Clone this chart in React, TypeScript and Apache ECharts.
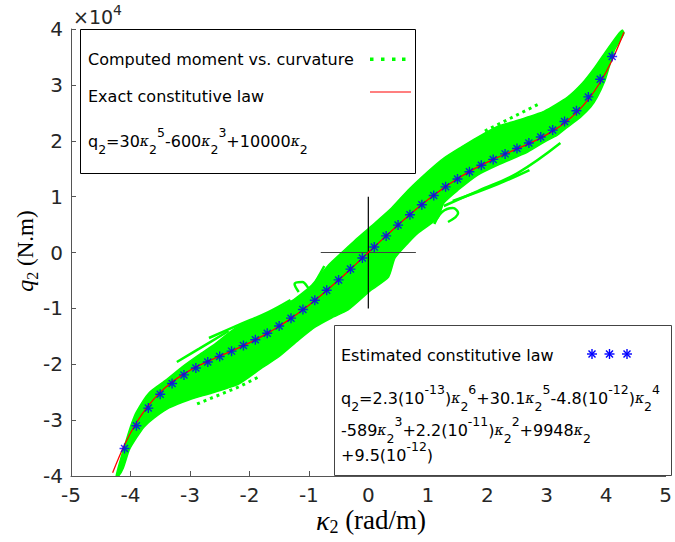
import React, { useEffect, useRef } from 'react';
import * as echarts from 'echarts';

// ---------- data ----------
// curvature samples for the exact constitutive law (red line)
const kappaExact = [-4.3, -4.1, -3.9, -3.7, -3.5, -3.3, -3.1, -2.9, -2.7, -2.5, -2.3, -2.1, -1.9, -1.7, -1.5, -1.3, -1.1, -0.9, -0.7, -0.5, -0.3, -0.1,
  0.1, 0.3, 0.5, 0.7, 0.9, 1.1, 1.3, 1.5, 1.7, 1.9, 2.1, 2.3, 2.5, 2.7, 2.9, 3.1, 3.3, 3.5, 3.7, 3.9, 4.1, 4.3];
const qExact = [-39398, -34404, -30476, -27411, -25032, -23178, -21714, -20520, -19495, -18555, -17631, -16669, -15627, -14478, -13203, -11793, -10250, -8580, -6799, -4926, -2984, -999,
  999, 2984, 4926, 6799, 8580, 10250, 11793, 13203, 14478, 15627, 16669, 17631, 18555, 19495, 20520, 21714, 23178, 25032, 27411, 30476, 34404, 39398];

// estimated constitutive law (blue asterisks)
const kappaEstimated = [-4.1, -3.9, -3.7, -3.5, -3.3, -3.1, -2.9, -2.7, -2.5, -2.3, -2.1, -1.9, -1.7, -1.5, -1.3, -1.1, -0.9, -0.7, -0.5, -0.3, -0.1,
  0.1, 0.3, 0.5, 0.7, 0.9, 1.1, 1.3, 1.5, 1.7, 1.9, 2.1, 2.3, 2.5, 2.7, 2.9, 3.1, 3.3, 3.5, 3.7, 3.9, 4.1];
const qEstimated = [-35065, -31016, -27846, -25374, -23441, -21909, -20658, -19585, -18606, -17651, -16665, -15607, -14445, -13163, -11750, -10207, -8542, -6767, -4901, -2969, -994,
  994, 2969, 4901, 6767, 8542, 10207, 11750, 13163, 14445, 15607, 16665, 17651, 18606, 19585, 20658, 21909, 23441, 25374, 27846, 31016, 35065];

// computed moment vs curvature cloud: upper envelope (left -> right)
const cloudUpperK = [-4.24, -4.17, -4.07, -3.99, -3.90, -3.69, -3.40, -3.13, -2.85, -2.60, -2.23, -1.73, -1.29, -0.95, -0.67, -0.42, -0.22, 0.05, 0.39, 0.67, 1.01, 1.27, 1.56, 1.84, 2.18, 2.40, 2.96, 3.35, 3.60, 3.80, 4.02, 4.19, 4.27];
const cloudUpperQ = [-40000, -37120, -33540, -30860, -28535, -25135, -22810, -20480, -18340, -16550, -13510, -11180, -8680, -5810, -2240, 270, 2240, 4740, 7960, 11180, 14580, 16910, 18870, 20660, 22600, 23300, 25310, 27820, 30320, 33010, 36410, 38910, 39800];
// lower envelope (right -> left)
const cloudLowerK = [4.30, 4.24, 4.14, 4.05, 3.97, 3.85, 3.74, 3.57, 3.35, 3.18, 2.96, 2.68, 2.18, 1.84, 1.51, 1.27, 1.17, 0.84, 0.67, 0.45, 0.34, 0.05, -0.34, -0.62, -0.89, -1.17, -1.51, -1.79, -2.18, -2.63, -3.02, -3.35, -3.60, -3.77, -3.90, -4.02, -4.12, -4.20];
const cloudLowerQ = [39270, 38020, 36230, 33190, 30500, 27820, 26030, 24240, 22450, 21020, 19770, 17980, 15650, 13870, 11180, 8860, 6170, 3490, 1700, -980, -4380, -6710, -10290, -11720, -13330, -15650, -18700, -20660, -23530, -25135, -26390, -27820, -29610, -31220, -33190, -35330, -38550, -40000];

// stray trajectories of the computed cloud
const strandLowRight1 = [[1.27, 8320], [1.84, 11000], [2.51, 14220], [3.23, 19590]];
const strandLowRight2 = [[1.42, 9210], [2.18, 12260], [2.71, 14760]];
const curlLowRight = [[1.11, 5100], [1.24, 7250], [1.42, 7960], [1.51, 7070], [1.34, 5460]];
const strandUpLeft1 = [[-3.22, -19590], [-2.85, -17260], [-2.35, -14040]];
const strandUpLeft2 = [[-2.68, -15300], [-2.18, -12970], [-1.68, -10650], [-1.31, -8500]];
const curlUpLeft = [[-1.17, -7070], [-1.24, -5640], [-1.11, -5280], [-0.97, -6710], [-0.87, -4920], [-0.74, -2420]];
const dottedUpRight = [[1.96, 21740], [2.43, 24240], [2.90, 26750]];
const dottedLowLeft = [[-2.88, -27100], [-2.18, -24060], [-1.81, -22090]];

// origin cross
const crossH = [[-0.8, 0], [0.8, 0]];
const crossV = [[0, -10000], [0, 10000]];

// ---------- styles ----------
const GREEN = '#00ff00';
const RED = '#ff0000';
const BLUE = '#0000ff';
const AXIS = '#555555';
const SANS = 'DejaVu Sans';
const SERIF = 'Liberation Serif';

const ASTERISK = 'path://M5,0L5,10M0,5L10,5M1.5,1.5L8.5,8.5M1.5,8.5L8.5,1.5';

const formulaRich = {
  n: { fontSize: 16, fontFamily: SANS, color: '#000', lineHeight: 30 },
  k: { fontSize: 14, fontFamily: 'DejaVu Serif', fontStyle: 'italic', color: '#000', lineHeight: 30 },
  b: { fontSize: 12.5, fontFamily: SANS, color: '#000', lineHeight: 12, verticalAlign: 'bottom' },
  p: { fontSize: 12.5, fontFamily: SANS, color: '#000', lineHeight: 14, verticalAlign: 'top' },
};

function asteriskGraphic(cx: number, cy: number) {
  const r = 5;
  const d = 3.5;
  const st = { stroke: BLUE, lineWidth: 1.4 };
  return {
    type: 'group',
    z: 101,
    children: [
      { type: 'line', z: 101, shape: { x1: cx, y1: cy - r, x2: cx, y2: cy + r }, style: st },
      { type: 'line', z: 101, shape: { x1: cx - r, y1: cy, x2: cx + r, y2: cy }, style: st },
      { type: 'line', z: 101, shape: { x1: cx - d, y1: cy - d, x2: cx + d, y2: cy + d }, style: st },
      { type: 'line', z: 101, shape: { x1: cx - d, y1: cy + d, x2: cx + d, y2: cy - d }, style: st },
    ],
  };
}

function buildOption() {
  const cloudOutline: number[][] = [];
  cloudUpperK.forEach((k, i) => cloudOutline.push([k, cloudUpperQ[i]]));
  cloudLowerK.forEach((k, i) => cloudOutline.push([k, cloudLowerQ[i]]));

  const strand = (data: number[][]) => ({
    type: 'line', data, showSymbol: false, silent: true, smooth: 0.4,
    lineStyle: { color: GREEN, width: 2.5 }, z: 2,
  });
  const dotted = (data: number[][]) => ({
    type: 'line', data, showSymbol: false, silent: true,
    lineStyle: { color: GREEN, width: 3, type: [3, 4] }, z: 2,
  });

  return {
    animation: false,
    grid: { left: 71, top: 29, width: 597, height: 447 },
    xAxis: {
      type: 'value', min: -5, max: 5, interval: 1,
      axisLine: { onZero: false, lineStyle: { color: AXIS, width: 1 } },
      axisTick: { inside: true, length: 5, lineStyle: { color: AXIS } },
      axisLabel: { fontSize: 20, fontFamily: SANS, color: '#262626', margin: 9 },
      splitLine: { show: false },
    },
    yAxis: {
      type: 'value', min: -40000, max: 40000, interval: 10000,
      axisLine: { onZero: false, lineStyle: { color: AXIS, width: 1 } },
      axisTick: { inside: true, length: 5, lineStyle: { color: AXIS } },
      axisLabel: {
        fontSize: 20, fontFamily: SANS, color: '#262626', margin: 8,
        formatter: (v: number) => String(v / 10000),
      },
      splitLine: { show: false },
    },
    series: [
      {
        type: 'custom',
        coordinateSystem: 'cartesian2d',
        data: [[0, 0]],
        silent: true,
        clip: true,
        z: 1,
        renderItem: (_params: any, api: any) => ({
          type: 'polygon',
          shape: { points: cloudOutline.map((p) => api.coord(p)), smooth: 0.2 },
          style: { fill: GREEN, stroke: GREEN, lineWidth: 1.5 },
        }),
      },
      strand(strandLowRight1),
      strand(strandLowRight2),
      strand(curlLowRight),
      strand(strandUpLeft1),
      strand(strandUpLeft2),
      strand(curlUpLeft),
      dotted(dottedUpRight),
      dotted(dottedLowLeft),
      {
        type: 'line', data: crossH, showSymbol: false, silent: true,
        lineStyle: { color: '#444', width: 1.2 }, z: 3,
      },
      {
        type: 'line', data: crossV, showSymbol: false, silent: true,
        lineStyle: { color: '#000', width: 1.2 }, z: 3,
      },
      {
        name: 'Exact constitutive law',
        type: 'line', data: kappaExact.map((k, i) => [k, qExact[i]]),
        showSymbol: false, smooth: 0.3, silent: true,
        lineStyle: { color: RED, width: 1.3 }, z: 4,
      },
      {
        name: 'Estimated constitutive law',
        type: 'scatter', data: kappaEstimated.map((k, i) => [k, qEstimated[i]]),
        symbol: ASTERISK, symbolSize: 10, silent: true,
        itemStyle: { color: 'rgba(0,0,0,0)', borderColor: BLUE, borderWidth: 1.4 },
        z: 5,
      },
    ],
    graphic: [
      // x10^4 multiplier
      { type: 'text', x: 73, y: 17, z: 100, style: { text: '×10', fontSize: 19, fontFamily: SANS, fill: '#262626', verticalAlign: 'middle' } },
      { type: 'text', x: 113, y: 10, z: 100, style: { text: '4', fontSize: 14, fontFamily: SANS, fill: '#262626', verticalAlign: 'middle' } },
      // axis titles
      {
        type: 'text', x: 371, y: 520, z: 100,
        style: {
          text: '{k|κ}{s|2}{n| (rad/m)}', align: 'center', verticalAlign: 'middle',
          rich: {
            k: { fontFamily: SERIF, fontStyle: 'italic', fontSize: 28, lineHeight: 32, color: '#262626' },
            s: { fontFamily: SERIF, fontSize: 18, lineHeight: 15, verticalAlign: 'bottom', color: '#262626' },
            n: { fontFamily: SERIF, fontSize: 27, lineHeight: 32, color: '#262626' },
          },
        },
      },
      {
        type: 'text', x: 25, y: 251, rotation: Math.PI / 2, z: 100,
        style: {
          text: '{q|q}{s|2}{n| (N.m)}', align: 'center', verticalAlign: 'middle',
          rich: {
            q: { fontFamily: SERIF, fontStyle: 'italic', fontSize: 24, lineHeight: 30, color: '#262626' },
            s: { fontFamily: SERIF, fontSize: 16, lineHeight: 14, verticalAlign: 'bottom', color: '#262626' },
            n: { fontFamily: SERIF, fontSize: 23, lineHeight: 30, color: '#262626' },
          },
        },
      },
      // legend 1
      { type: 'rect', z: 100, shape: { x: 80.5, y: 29.5, width: 335, height: 144 }, style: { fill: '#fff', stroke: '#000', lineWidth: 1 } },
      { type: 'text', x: 88, y: 59, z: 101, style: { text: 'Computed moment vs. curvature', fontSize: 16, fontFamily: SANS, fill: '#000', verticalAlign: 'middle' } },
      { type: 'rect', z: 101, shape: { x: 370, y: 57.5, width: 3.5, height: 3.5 }, style: { fill: GREEN } },
      { type: 'rect', z: 101, shape: { x: 381, y: 57.5, width: 3.5, height: 3.5 }, style: { fill: GREEN } },
      { type: 'rect', z: 101, shape: { x: 392, y: 57.5, width: 3.5, height: 3.5 }, style: { fill: GREEN } },
      { type: 'rect', z: 101, shape: { x: 402, y: 57.5, width: 3.5, height: 3.5 }, style: { fill: GREEN } },
      { type: 'text', x: 88, y: 96, z: 101, style: { text: 'Exact constitutive law', fontSize: 16, fontFamily: SANS, fill: '#000', verticalAlign: 'middle' } },
      { type: 'line', z: 101, shape: { x1: 370, y1: 92, x2: 411, y2: 92 }, style: { stroke: RED, lineWidth: 1.2 } },
      {
        type: 'text', x: 88, y: 141, z: 101,
        style: {
          text: '{n|q}{b|2}{n|=30}{k|κ}{b|2}{p|5}{n|-600}{k|κ}{b|2}{p|3}{n|+10000}{k|κ}{b|2}',
          verticalAlign: 'middle', rich: formulaRich,
        },
      },
      // legend 2
      { type: 'rect', z: 100, shape: { x: 334.5, y: 325.5, width: 337, height: 150 }, style: { fill: '#fff', stroke: '#444', lineWidth: 1 } },
      { type: 'text', x: 341, y: 355, z: 101, style: { text: 'Estimated constitutive law', fontSize: 16, fontFamily: SANS, fill: '#000', verticalAlign: 'middle' } },
      asteriskGraphic(592, 354),
      asteriskGraphic(609.5, 354),
      asteriskGraphic(627, 354),
      {
        type: 'text', x: 341, y: 398, z: 101,
        style: {
          text: '{n|q}{b|2}{n|=2.3(10}{p|-13}{n|)}{k|κ}{b|2}{p|6}{n|+30.1}{k|κ}{b|2}{p|5}{n|-4.8(10}{p|-12}{n|)}{k|κ}{b|2}{p|4}',
          verticalAlign: 'middle', rich: formulaRich,
        },
      },
      {
        type: 'text', x: 341, y: 430, z: 101,
        style: {
          text: '{n|-589}{k|κ}{b|2}{p|3}{n|+2.2(10}{p|-11}{n|)}{k|κ}{b|2}{p|2}{n|+9948}{k|κ}{b|2}',
          verticalAlign: 'middle', rich: formulaRich,
        },
      },
      {
        type: 'text', x: 341, y: 455, z: 101,
        style: {
          text: '{n|+9.5(10}{p|-12}{n|)}',
          verticalAlign: 'middle', rich: formulaRich,
        },
      },
    ],
  };
}

export default function App() {
  const ref = useRef<HTMLDivElement>(null);
  useEffect(() => {
    if (!ref.current) return;
    const chart = echarts.init(ref.current, null, { renderer: 'svg' });
    chart.setOption(buildOption() as any);
    return () => chart.dispose();
  }, []);
  return (
    <div
      ref={ref}
      style={{ position: 'fixed', left: 0, top: 0, width: 675, height: 542, background: '#fff' }}
    />
  );
}
